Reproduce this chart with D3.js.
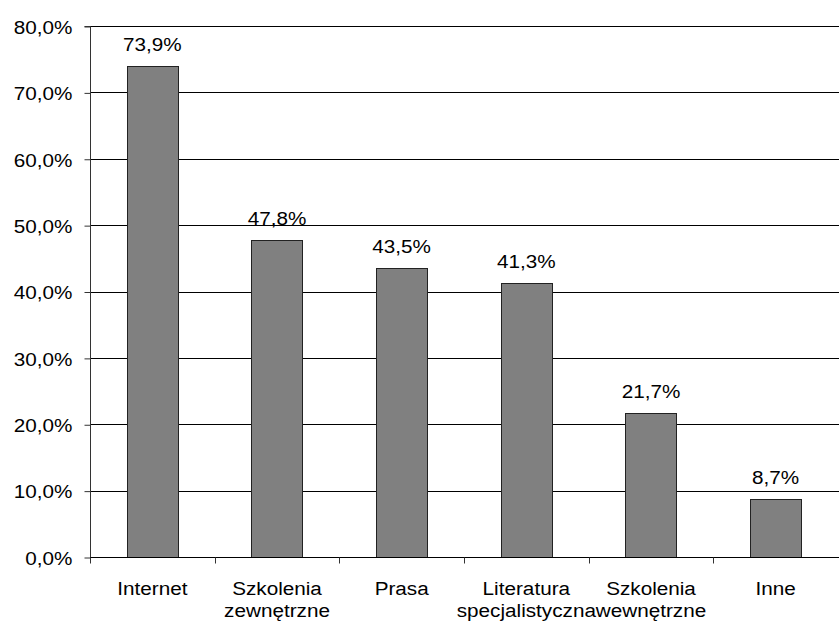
<!DOCTYPE html>
<html>
<head>
<meta charset="utf-8">
<script src="https://cdn.jsdelivr.net/npm/d3@7/dist/d3.min.js"></script>
<style>
  html, body { margin: 0; padding: 0; background: #fff; }
  svg { display: block; }
  text { font-family: "Liberation Sans", Arial, sans-serif; fill: #000; }
</style>
</head>
<body>
<svg id="chart" width="839" height="621"></svg>
<script>
// Sources of information (share of respondents)
const categories = [
  ["Internet"],
  ["Szkolenia", "zewnętrzne"],
  ["Prasa"],
  ["Literatura", "specjalistyczna"],
  ["Szkolenia", "wewnętrzne"],
  ["Inne"]
];
const values = [73.9, 47.8, 43.5, 41.3, 21.7, 8.7];
const yTicks = [0, 10, 20, 30, 40, 50, 60, 70, 80];

const fmt = v => v.toFixed(1).replace(".", ",") + "%";

const FONT = 19;
const STRETCH = 1.09;

const svg = d3.select("#chart");
const margin = { left: 90, right: 1, top: 26, bottom: 64 };
const W = 839, H = 621;

const x = d3.scaleBand()
  .domain(d3.range(categories.length))
  .range([margin.left, W - margin.right])
  .padding(0);

const y = d3.scaleLinear()
  .domain([0, 80])
  .range([H - margin.bottom, margin.top]);

// Horizontal gridlines
svg.append("g")
  .selectAll("line")
  .data(yTicks.filter(t => t > 0))
  .join("line")
  .attr("x1", margin.left)
  .attr("x2", W)
  .attr("y1", d => Math.round(y(d)) + 0.5)
  .attr("y2", d => Math.round(y(d)) + 0.5)
  .attr("stroke", "#000")
  .attr("stroke-width", 1);

// Bars
const barW = x.bandwidth() * 0.41;
svg.append("g")
  .selectAll("rect")
  .data(values)
  .join("rect")
  .attr("x", (d, i) => Math.round(x(i) + (x.bandwidth() - barW) / 2) + 0.5)
  .attr("y", d => Math.round(y(d)) + 0.5)
  .attr("width", Math.round(barW))
  .attr("height", d => Math.round(y(0)) - Math.round(y(d)))
  .attr("fill", "#808080")
  .attr("stroke", "#222")
  .attr("stroke-width", 1);

// Value labels
svg.append("g")
  .selectAll("text")
  .data(values)
  .join("text")
  .attr("transform", (d, i) => `translate(${x(i) + x.bandwidth() / 2},${y(d) - 15}) scale(${STRETCH},1)`)
  .attr("text-anchor", "middle")
  .attr("font-size", FONT)
  .text(d => fmt(d));

// Y axis
const yAxis = d3.axisLeft(y)
  .tickValues(yTicks)
  .tickSize(6)
  .tickPadding(12)
  .tickFormat(fmt);
const gy = svg.append("g")
  .attr("transform", `translate(${margin.left + 0.5},0.5)`)
  .call(yAxis);
gy.select(".domain").attr("stroke", "#333").attr("d", `M-6,${y(80)}H0V${y(0)}`);
gy.selectAll(".tick line").attr("stroke", "#333");
gy.selectAll(".tick text")
  .attr("x", 0)
  .attr("dy", "0.36em")
  .attr("transform", `translate(-18,0) scale(${STRETCH},1)`)
  .attr("font-size", FONT)
  .attr("font-family", "Liberation Sans, Arial, sans-serif")
  .attr("fill", "#000");

// X axis: baseline and tick marks at category boundaries
const y0 = Math.round(y(0)) + 0.5;
svg.append("line")
  .attr("x1", margin.left).attr("x2", W)
  .attr("y1", y0).attr("y2", y0)
  .attr("stroke", "#000");
svg.append("g")
  .selectAll("line")
  .data(d3.range(categories.length).map(i => x(i)))
  .join("line")
  .attr("x1", d => Math.round(d) + 0.5)
  .attr("x2", d => Math.round(d) + 0.5)
  .attr("y1", y0)
  .attr("y2", y0 + 6)
  .attr("stroke", "#333");

// Category labels
const catG = svg.append("g")
  .selectAll("text")
  .data(categories)
  .join("text")
  .attr("transform", (d, i) => `translate(${x(i) + x.bandwidth() / 2},${y0 + 37}) scale(${STRETCH},1)`)
  .attr("text-anchor", "middle")
  .attr("font-size", FONT);
catG.selectAll("tspan")
  .data(d => d)
  .join("tspan")
  .attr("x", 0)
  .attr("dy", (d, i) => i === 0 ? 0 : 23)
  .text(d => d);
</script>
</body>
</html>
